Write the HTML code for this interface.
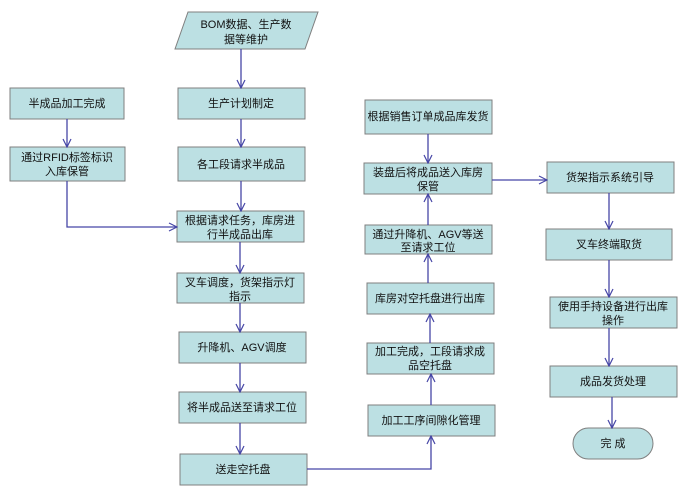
<!DOCTYPE html>
<html><head><meta charset="utf-8"><style>
html,body{margin:0;padding:0;background:#fff;}
svg{display:block;}
text{font-family:"Liberation Sans","Noto Sans CJK SC",sans-serif;font-size:11px;fill:#111;text-anchor:middle;}
.b{fill:#bce0e3;stroke:#7f7f7f;stroke-width:1;}
.l{stroke:#4646a6;stroke-width:1.3;fill:none;}
</style></head><body>
<svg width="687" height="493" viewBox="0 0 687 493">
<defs><marker id="a" markerWidth="10" markerHeight="10" refX="9" refY="5" orient="auto" markerUnits="userSpaceOnUse"><path d="M1,1 L9,5 L1,9" fill="none" stroke="#4646a6" stroke-width="1.2"/></marker></defs>
<!-- shapes -->
<polygon class="b" points="188,12 318,12 305,49 175,49"/>
<text x="246" y="28">BOM数据、生产数</text><text x="246" y="43">据等维护</text>
<rect class="b" x="10" y="88" width="114" height="31"/><text x="67" y="107">半成品加工完成</text>
<rect class="b" x="10" y="147" width="115" height="34"/><text x="67" y="161">通过RFID标签标识</text><text x="67" y="175">入库保管</text>
<rect class="b" x="178" y="88" width="127" height="31"/><text x="241" y="107">生产计划制定</text>
<rect class="b" x="178" y="147" width="127" height="34"/><text x="241" y="168">各工段请求半成品</text>
<rect class="b" x="177" y="211" width="127" height="31"/><text x="240" y="224">根据请求任务，库房进</text><text x="240" y="238">行半成品出库</text>
<rect class="b" x="177" y="273" width="127" height="30"/><text x="240" y="286">叉车调度，货架指示灯</text><text x="240" y="300">指示</text>
<rect class="b" x="179" y="332" width="127" height="31"/><text x="242" y="351">升降机、AGV调度</text>
<rect class="b" x="179" y="392" width="127" height="31"/><text x="242" y="411">将半成品送至请求工位</text>
<rect class="b" x="180" y="454" width="127" height="31"/><text x="243" y="473">送走空托盘</text>
<rect class="b" x="365" y="100" width="127" height="34"/><text x="428" y="120">根据销售订单成品库发货</text>
<rect class="b" x="364" y="163" width="128" height="31"/><text x="428" y="176">装盘后将成品送入库房</text><text x="428" y="190">保管</text>
<rect class="b" x="365" y="225" width="127" height="29"/><text x="428" y="238">通过升降机、AGV等送</text><text x="428" y="251">至请求工位</text>
<rect class="b" x="367" y="283" width="127" height="31"/><text x="430" y="302">库房对空托盘进行出库</text>
<rect class="b" x="367" y="343" width="127" height="31"/><text x="430" y="355">加工完成，工段请求成</text><text x="430" y="369">品空托盘</text>
<rect class="b" x="368" y="405" width="127" height="31"/><text x="431" y="424">加工工序间隙化管理</text>
<rect class="b" x="547" y="162" width="127" height="31"/><text x="610" y="181">货架指示系统引导</text>
<rect class="b" x="546" y="229" width="126" height="31"/><text x="609" y="248">叉车终端取货</text>
<rect class="b" x="550" y="297" width="127" height="31"/><text x="613" y="310">使用手持设备进行出库</text><text x="613" y="324">操作</text>
<rect class="b" x="550" y="366" width="127" height="31"/><text x="613" y="385">成品发货处理</text>
<rect class="b" x="573" y="428" width="80" height="31" rx="15.5"/><text x="613" y="447">完 成</text>
<!-- connectors -->
<path class="l" d="M241,49 V88" marker-end="url(#a)"/>
<path class="l" d="M241,119 V147" marker-end="url(#a)"/>
<path class="l" d="M241,181 V211" marker-end="url(#a)"/>
<path class="l" d="M67,119 V147" marker-end="url(#a)"/>
<path class="l" d="M67,181 V227 H177" marker-end="url(#a)"/>
<path class="l" d="M240,242 V273" marker-end="url(#a)"/>
<path class="l" d="M240,303 V332" marker-end="url(#a)"/>
<path class="l" d="M240,363 V392" marker-end="url(#a)"/>
<path class="l" d="M240,423 V454" marker-end="url(#a)"/>
<path class="l" d="M307,469 H431 V436" marker-end="url(#a)"/>
<path class="l" d="M431,405 V374" marker-end="url(#a)"/>
<path class="l" d="M430,343 V314" marker-end="url(#a)"/>
<path class="l" d="M428,283 V254" marker-end="url(#a)"/>
<path class="l" d="M428,225 V194" marker-end="url(#a)"/>
<path class="l" d="M428,134 V163" marker-end="url(#a)"/>
<path class="l" d="M492,180 H547" marker-end="url(#a)"/>
<path class="l" d="M609,193 V229" marker-end="url(#a)"/>
<path class="l" d="M609,260 V297" marker-end="url(#a)"/>
<path class="l" d="M609,328 V366" marker-end="url(#a)"/>
<path class="l" d="M612,397 V428" marker-end="url(#a)"/>
</svg>
</body></html>
